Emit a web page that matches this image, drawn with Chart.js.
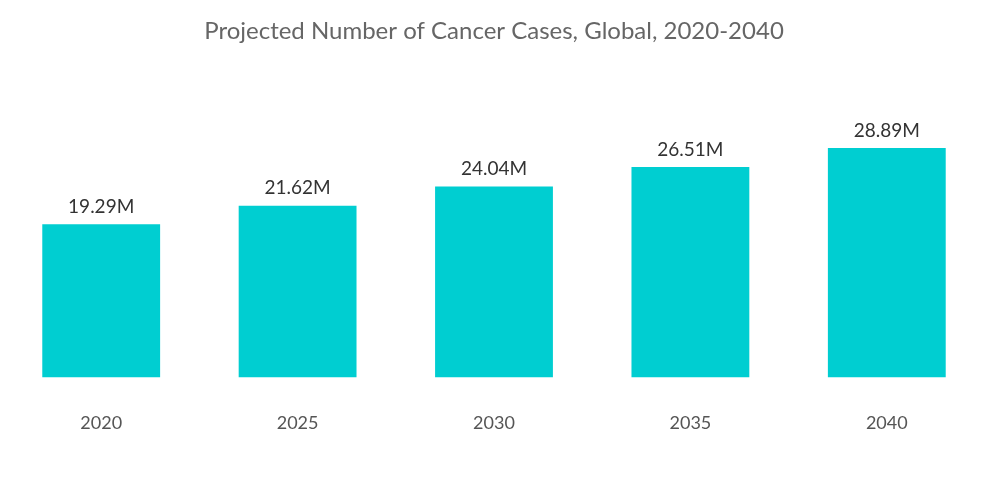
<!DOCTYPE html>
<html>
<head>
<meta charset="utf-8">
<script src="https://cdn.jsdelivr.net/npm/chart.js@4.4.0/dist/chart.umd.min.js"></script>
<style>
  html, body { margin: 0; padding: 0; background: #fff; }
  #wrap { width: 1000px; height: 504px; }
</style>
</head>
<body>
<div id="wrap"><canvas id="casesChart"></canvas></div>
<script>
const years = ['2020', '2025', '2030', '2035', '2040'];
const cases = [19.29, 21.62, 24.04, 26.51, 28.89];
const caseLabels = ['19.29M', '21.62M', '24.04M', '26.51M', '28.89M'];

// draw the value above each bar
const barValues = {
  id: 'barValues',
  afterDatasetsDraw(chart) {
    const ctx = chart.ctx;
    const meta = chart.getDatasetMeta(0);
    ctx.save();
    ctx.font = '19px Lato, "Open Sans", sans-serif';
    ctx.fillStyle = '#333';
    ctx.textAlign = 'center';
    ctx.textBaseline = 'bottom';
    meta.data.forEach((bar, i) => {
      ctx.fillText(caseLabels[i], bar.x, bar.y - 8);
    });
    ctx.restore();
  }
};

const ctx = document.getElementById('casesChart').getContext('2d');
const casesChart = new Chart(ctx, {
  type: 'bar',
  data: {
    labels: years,
    datasets: [{
      label: 'Cancer cases',
      data: cases,
      backgroundColor: '#00CED1',
      borderWidth: 0,
      barPercentage: 0.6,
      categoryPercentage: 1
    }]
  },
  options: {
    responsive: true,
    maintainAspectRatio: false,
    animation: false,
    layout: {
      padding: { left: 3, right: 15, top: 0, bottom: 43 }
    },
    plugins: {
      legend: { display: false },
      tooltip: { enabled: false },
      title: {
        display: true,
        text: 'Projected Number of Cancer Cases, Global, 2020-2040',
        color: '#666',
        font: { family: 'Lato, "Open Sans", sans-serif', size: 24, weight: 'normal' },
        padding: { top: 17, bottom: 26 }
      }
    },
    scales: {
      x: {
        grid: { display: false },
        border: { display: false },
        ticks: {
          color: '#555',
          padding: 27,
          font: { family: 'Lato, "Open Sans", sans-serif', size: 18 }
        }
      },
      y: {
        display: false,
        min: 0,
        max: 38.5
      }
    }
  },
  plugins: [barValues]
});
</script>
</body>
</html>
